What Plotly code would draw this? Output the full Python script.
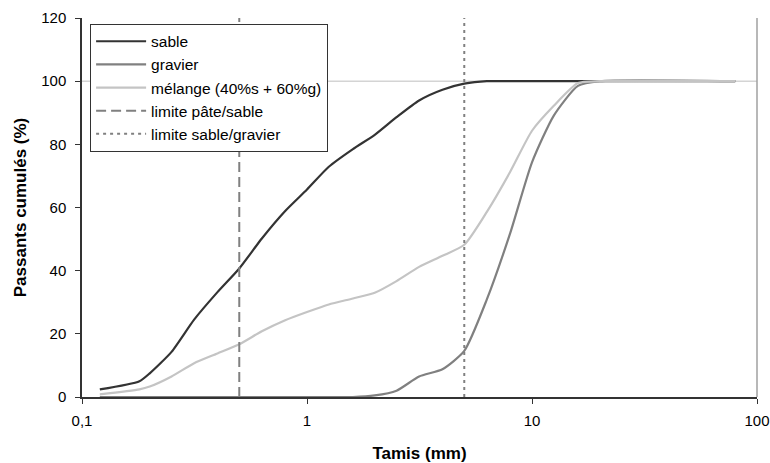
import plotly.graph_objects as go

# Sieve sizes (mm)
tamis = [0.12, 0.18, 0.2, 0.25, 0.315, 0.4, 0.5, 0.63, 0.8, 1, 1.25, 1.6, 2, 2.5,
         3.15, 4, 5, 6.3, 8, 10, 12.5, 16, 20, 80]

sable = [2.4, 5.0, 7.5, 14.3, 24.5, 33.2, 40.7, 50.2, 58.9, 65.7, 72.9, 78.5, 83.0, 88.6,
         93.9, 97.3, 99.2, 100, 100, 100, 100, 100, 100, 100]
gravier = [0, 0, 0, 0, 0, 0, 0, 0, 0, 0, 0, 0, 0.5, 2.0,
           6.5, 8.8, 14.6, 30.9, 51.9, 74.3, 89.1, 98.5, 100, 100]
melange = [0.85, 2.4, 3.3, 6.5, 10.7, 13.8, 16.7, 20.8, 24.3, 26.9, 29.3, 31.2, 33.0, 36.7,
           41.2, 44.7, 48.2, 58.6, 71.3, 84.3, 92.2, 99.4, 100, 100]

limite_pate_sable = 0.5
limite_sable_gravier = 5
y_range = [0, 120]

x_tickvals = [0.1, 1, 10, 100]
x_ticktext = ["0,1", "1", "10", "100"]
y_tickvals = [0, 20, 40, 60, 80, 100, 120]

FONT = "Liberation Sans, Arial, sans-serif"

fig = go.Figure()

fig.add_trace(go.Scatter(x=tamis, y=sable, name="sable", mode="lines",
                         line=dict(color="#333333", width=2.2, shape="spline", smoothing=0.6)))
fig.add_trace(go.Scatter(x=tamis, y=gravier, name="gravier", mode="lines",
                         line=dict(color="#808080", width=2.2, shape="spline", smoothing=0.6)))
fig.add_trace(go.Scatter(x=tamis, y=melange, name="mélange (40%s + 60%g)", mode="lines",
                         line=dict(color="#c4c4c4", width=2.2, shape="spline", smoothing=0.6)))
fig.add_trace(go.Scatter(x=[limite_pate_sable, limite_pate_sable], y=y_range,
                         name="limite pâte/sable", mode="lines",
                         line=dict(color="#808080", width=2, dash="10px,5px")))
fig.add_trace(go.Scatter(x=[limite_sable_gravier, limite_sable_gravier], y=y_range,
                         name="limite sable/gravier", mode="lines",
                         line=dict(color="#808080", width=2, dash="3px,4px")))

# light line at 100 %
fig.add_shape(type="line", xref="paper", yref="y", x0=0, x1=1, y0=100, y1=100,
              line=dict(color="#d4d4d4", width=1.5), layer="below")
# right frame line
fig.add_shape(type="line", xref="paper", yref="paper", x0=1, x1=1, y0=0, y1=1,
              line=dict(color="#a0a0a0", width=1.5), layer="below")

fig.update_layout(
    width=770, height=463,
    margin=dict(l=82, r=13, t=18, b=66, autoexpand=False),
    paper_bgcolor="white", plot_bgcolor="white",
    font=dict(family=FONT, size=15, color="black"),
    showlegend=True,
    legend=dict(x=0.012, y=0.985, xanchor="left", yanchor="top",
                bgcolor="white", bordercolor="#333333", borderwidth=1,
                font=dict(family=FONT, size=15.5, color="black"),
                itemwidth=50, tracegroupgap=0),
    xaxis=dict(type="log", range=[-1, 2], tickvals=x_tickvals, ticktext=x_ticktext,
               automargin=False,
               showgrid=False, zeroline=False, showline=True, linecolor="#333333", linewidth=1.5,
               ticks="outside", ticklen=5, tickcolor="#333333", tickwidth=1,
               tickfont=dict(family=FONT, size=15, color="black"),
               ticklabelstandoff=4,
               title=dict(text="<b>Tamis (mm)</b>", font=dict(family=FONT, size=17, color="black"),
                          standoff=22)),
    yaxis=dict(range=y_range, tickvals=y_tickvals, automargin=False,
               showgrid=False, zeroline=False, showline=True, linecolor="#333333", linewidth=1.5,
               ticks="outside", ticklen=5, tickcolor="#333333", tickwidth=1,
               tickfont=dict(family=FONT, size=15, color="black"),
               ticklabelstandoff=6,
               title=dict(text="<b>Passants cumulés (%)</b>", font=dict(family=FONT, size=17, color="black"),
                          standoff=10)),
)

# remove the browser's default 8px body margin so the figure fills the window
fig.write_html("out.html",
               config={"displayModeBar": False},
               post_script="document.body.style.margin='0';document.body.style.overflow='hidden';")
